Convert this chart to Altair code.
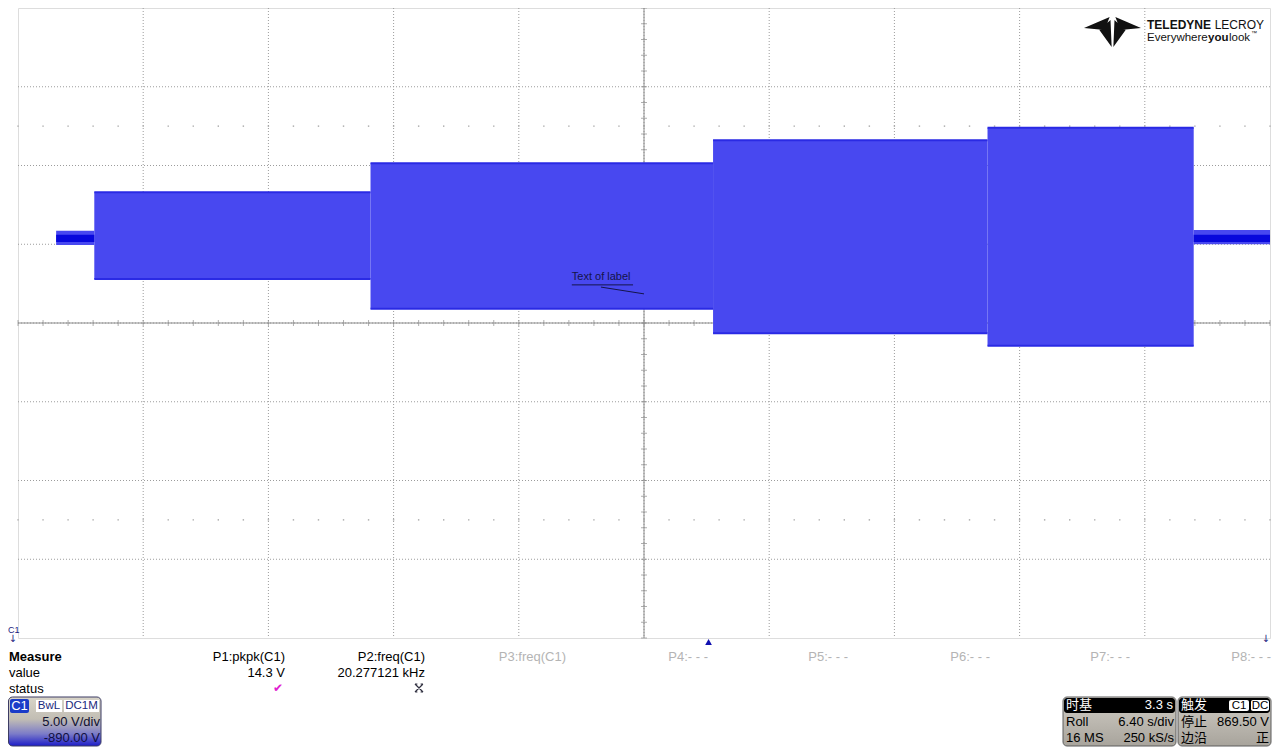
import altair as alt
import pandas as pd

# ---------------- data read from the screen ----------------
# envelope segments of channel C1 (time in s, voltage in V)
seg_start = [-30.05, -28.10, -13.98, 3.53, 17.56, 28.10]
seg_end = [-28.10, -13.98, 3.53, 17.56, 28.10, 32.00]
seg_low = [894.95, 892.80, 890.90, 889.35, 888.55, 895.00]
seg_high = [895.85, 898.30, 900.15, 901.60, 902.40, 895.90]

# dark core of the two narrow segments
core_start = [-30.05, 28.10]
core_end = [-28.10, 32.00]
core_low = [895.15, 895.15]
core_high = [895.60, 895.60]

# screen grid: 10 x 6.40 s/div, 8 x 5.00 V/div, offset -890 V
x_domain = [-32.0, 32.0]
y_domain = [870.0, 910.0]
grid_t = [-32.0, -25.6, -19.2, -12.8, -6.4, 0.0, 6.4, 12.8, 19.2, 25.6, 32.0]
grid_v = [870.0, 875.0, 880.0, 885.0, 890.0, 895.0, 900.0, 905.0, 910.0]
minor_t = [round(-32.0 + 1.28 * k, 2) for k in range(51)]
minor_v = [870.0 + k for k in range(41)]
dot_rows_v = [877.5, 902.5]
trigger_t = [3.3]

# label annotation
label_text = ["Text of label"]
label_t = [-3.69]
label_v = [892.72]
label_line_t = [-2.2, 0.0]
label_line_v = [892.28, 891.85]

# measurement table
meas_names = ["P1:pkpk(C1)", "P2:freq(C1)", "P3:freq(C1)", "P4:- - -",
              "P5:- - -", "P6:- - -", "P7:- - -", "P8:- - -"]
meas_values = ["14.3 V", "20.277121 kHz", "", "", "", "", "", ""]
meas_active = [True, True, False, False, False, False, False, False]

# ---------------- styling ----------------
SANS = "Liberation Sans, Arial, sans-serif"
CJK = "Noto Sans CJK SC"
BAND = "#4848f0"
EDGE = "#2a2ae4"
CORE = "#0808dc"
GRID = "#9c9c9c"

xs = alt.Scale(domain=x_domain, nice=False, zero=False)
ys = alt.Scale(domain=y_domain, nice=False, zero=False)
one = pd.DataFrame({"a": [0]})


def X(f, **kw):
    return alt.X(f, type="quantitative", scale=xs, axis=None, **kw)


def Y(f, **kw):
    return alt.Y(f, type="quantitative", scale=ys, axis=None, **kw)


def txt(text, gx, gy, size=13, align="left", color="#000000", weight="normal",
        font=SANS, baseline="middle"):
    return alt.Chart(pd.DataFrame({"s": [text]})).mark_text(
        align=align, baseline=baseline, fontSize=size, fontWeight=weight,
        font=font, color=color
    ).encode(x=alt.value(gx), y=alt.value(gy), text="s:N")


def box(x1, x2, y1, y2, fill, stroke=None, radius=0, sw=1):
    kw = dict(fill=fill, cornerRadius=radius)
    if stroke is not None:
        kw.update(stroke=stroke, strokeWidth=sw)
    return alt.Chart(one).mark_rect(**kw).encode(
        x=alt.value(x1), x2=alt.value(x2), y=alt.value(y1), y2=alt.value(y2))


def grad(stops):
    return alt.LinearGradient(
        gradient="linear", x1=0, x2=0, y1=0, y2=1,
        stops=[alt.GradientStop(offset=o, color=c) for o, c in stops])


layers = []

# dotted grid
layers.append(alt.Chart(pd.DataFrame({"t": grid_t[1:-1]})).mark_rule(
    color=GRID, strokeDash=[1, 2], strokeWidth=1).encode(x=X("t")))
layers.append(alt.Chart(pd.DataFrame({"v": grid_v[1:-1]})).mark_rule(
    color=GRID, strokeDash=[1, 2], strokeWidth=1).encode(y=Y("v")))

# marker dots at +-2.5 div
dots = pd.DataFrame([(t, v) for v in dot_rows_v for t in minor_t], columns=["t", "v"])
layers.append(alt.Chart(dots).mark_point(
    shape="square", filled=True, size=2, color="#a8a8a8", opacity=1).encode(
    x=X("t"), y=Y("v")))

# solid centre lines with minor ticks
layers.append(alt.Chart(one).mark_rule(color="#8c8c8c").encode(x=alt.X(datum=0.0, scale=xs, axis=None)))
layers.append(alt.Chart(one).mark_rule(color="#8c8c8c").encode(y=alt.Y(datum=890.0, scale=ys, axis=None)))
layers.append(alt.Chart(pd.DataFrame({"t": minor_t})).mark_tick(
    orient="vertical", size=6, thickness=1, color="#8c8c8c").encode(
    x=X("t"), y=alt.Y(datum=890.0, scale=ys, axis=None)))
layers.append(alt.Chart(pd.DataFrame({"v": minor_v})).mark_tick(
    orient="horizontal", size=6, thickness=1, color="#8c8c8c").encode(
    y=Y("v"), x=alt.X(datum=0.0, scale=xs, axis=None)))

# signal envelope
segs = pd.DataFrame({"t0": seg_start, "t1": seg_end, "lo": seg_low, "hi": seg_high})
layers.append(alt.Chart(segs).mark_rect(color=BAND, opacity=1).encode(
    x=X("t0"), x2="t1", y=Y("lo"), y2="hi"))
wide = segs.iloc[1:5]
layers.append(alt.Chart(wide).mark_rule(color=EDGE, strokeWidth=2).encode(
    x=X("t0"), x2="t1", y=Y("hi")))
layers.append(alt.Chart(wide).mark_rule(color=EDGE, strokeWidth=2).encode(
    x=X("t0"), x2="t1", y=Y("lo")))
cores = pd.DataFrame({"t0": core_start, "t1": core_end, "lo": core_low, "hi": core_high})
layers.append(alt.Chart(cores).mark_rect(color=CORE, opacity=1).encode(
    x=X("t0"), x2="t1", y=Y("lo"), y2="hi"))

# label annotation
lab = pd.DataFrame({"s": label_text, "t": label_t, "v": label_v})
layers.append(alt.Chart(lab).mark_text(
    align="left", baseline="alphabetic", fontSize=11, font=SANS, color="#14144a").encode(
    x=X("t"), y=Y("v"), text="s:N"))
layers.append(alt.Chart(pd.DataFrame({"t0": [label_t[0]], "t1": [-0.56], "v": [892.42]})).mark_rule(
    color="#14144a", strokeWidth=1).encode(x=X("t0"), x2="t1", y=Y("v")))
layers.append(alt.Chart(pd.DataFrame({"t0": [label_line_t[0]], "t1": [label_line_t[1]],
                                      "v0": [label_line_v[0]], "v1": [label_line_v[1]]})).mark_rule(
    color="#14144a", strokeWidth=1).encode(x=X("t0"), x2="t1", y=Y("v0"), y2="v1"))

# trigger position marker
layers.append(alt.Chart(pd.DataFrame({"t": trigger_t})).mark_point(
    shape="triangle-up", filled=True, size=45, color="#1010b0", opacity=1).encode(
    x=X("t"), y=alt.value(634)))

# channel markers
layers.append(txt("C1", -10, 622, size=9, align="left", color="#1a1a80"))
layers.append(txt("↓", -9.5, 631, size=10, align="left", color="#1a1a80", font="DejaVu Sans"))
layers.append(txt("↓", 1252, 631, size=10, align="right", color="#1a1a80", font="DejaVu Sans"))

# measurement table
layers.append(txt("Measure", -9, 649, size=13, weight="bold"))
layers.append(txt("value", -9, 665, size=13))
layers.append(txt("status", -9, 681, size=13))
col_x = [267, 407, 548, 690, 830, 972, 1112, 1253]
for name, val, act, cx in zip(meas_names, meas_values, meas_active, col_x):
    layers.append(txt(name, cx, 649, size=13, align="right",
                      color="#000000" if act else "#b4b4b4"))
    if val:
        layers.append(txt(val, cx, 665, size=13, align="right"))
layers.append(txt("✔", 260, 680, size=12, align="center", color="#e01cd0", font="DejaVu Sans"))
layers.append(alt.Chart(one).mark_point(
    shape="M-1,-1L1,1M1,-1L-1,1M-1,-1L-0.4,-1M1,-1L0.4,-1M-1,1L-0.4,1M1,1L0.4,1",
    filled=False, stroke="#303040", strokeWidth=1.2, size=64, opacity=1).encode(
    x=alt.value(401), y=alt.value(680)))

# C1 channel box
layers.append(box(-9.5, 83, 689, 738,
                  grad([(0, "#d8d4c8"), (0.45, "#c2beb4"), (0.75, "#7c7cc8"), (1, "#1c1cc8")]),
                  stroke="#3c3c64", radius=4))
layers.append(box(-8, 11, 691, 705, "#1a3cc8", radius=2))
layers.append(txt("C1", 1.5, 698, size=13, align="center", color="#ffffff"))
layers.append(box(18, 44, 692, 704, "#ffffff"))
layers.append(txt("BwL", 31, 698, size=11.5, align="center", color="#1a2a80"))
layers.append(box(46, 81, 692, 704, "#ffffff"))
layers.append(txt("DC1M", 63.5, 698, size=11.5, align="center", color="#1a2a80"))
layers.append(txt("5.00 V/div", 82, 714, size=13, align="right", color="#101030"))
layers.append(txt("-890.00 V", 82, 730, size=13, align="right", color="#101040"))

# timebase box
layers.append(box(1045, 1158, 689, 738, grad([(0, "#d0ccc4"), (1, "#a8a49c")]),
                  stroke="#5c5c5c", radius=4))
layers.append(box(1046, 1157, 690, 705, "#000000", radius=3))
layers.append(txt("时基", 1048, 697, size=13, color="#ffffff", font=CJK))
layers.append(txt("3.3 s", 1155, 697, size=13, align="right", color="#ffffff"))
layers.append(txt("Roll", 1048, 714, size=13))
layers.append(txt("6.40 s/div", 1156, 714, size=13, align="right"))
layers.append(txt("16 MS", 1048, 730, size=13))
layers.append(txt("250 kS/s", 1156, 730, size=13, align="right"))

# trigger box
layers.append(box(1160, 1253, 689, 738, grad([(0, "#d0ccc4"), (1, "#a8a49c")]),
                  stroke="#5c5c5c", radius=4))
layers.append(box(1161, 1252, 690, 705, "#000000", radius=3))
layers.append(txt("触发", 1163, 697, size=13, color="#ffffff", font=CJK))
layers.append(box(1211, 1231, 692, 703, "#ffffff", radius=2))
layers.append(txt("C1", 1221, 698, size=11.5, align="center"))
layers.append(box(1233, 1251, 692, 703, "#ffffff", radius=2))
layers.append(txt("DC", 1242, 698, size=11.5, align="center"))
layers.append(txt("停止", 1163, 714, size=13, font=CJK))
layers.append(txt("869.50 V", 1251, 714, size=13, align="right"))
layers.append(txt("边沿", 1163, 730, size=13, font=CJK))
layers.append(txt("正", 1251, 730, size=13, align="right", font=CJK))

# logo
logo_path = ("M-1,-0.14L-0.1,-0.53L-0.28,-0.07Z"
             "M1,-0.14L0.1,-0.53L0.28,-0.07Z"
             "M-0.46,-0.07L-0.07,-0.42L-0.03,0.53Z"
             "M0.46,-0.07L0.07,-0.42L0.03,0.53Z")
layers.append(alt.Chart(one).mark_point(
    shape=logo_path, filled=True, color="#111111", size=3249, opacity=1).encode(
    x=alt.value(1094.5), y=alt.value(24)))
layers.append(txt("TELEDYNE", 1129, 20.5, size=12, weight="bold", color="#111111",
                  baseline="alphabetic"))
layers.append(txt("LECROY", 1246, 20.5, size=12, align="right", color="#111111",
                  baseline="alphabetic"))
layers.append(txt("Everywhere", 1129, 32.5, size=11.5, color="#111111", baseline="alphabetic"))
layers.append(txt("you", 1190, 32.5, size=11.5, weight="bold", color="#111111", baseline="alphabetic"))
layers.append(txt("look", 1211, 32.5, size=11.5, color="#111111", baseline="alphabetic"))
layers.append(txt("™", 1233, 27, size=6, color="#111111", baseline="alphabetic"))

chart = alt.layer(*layers).properties(
    width=1252, height=630,
    autosize=alt.AutoSizeParams(type="none"),
    padding={"left": 10, "top": 0, "right": 2, "bottom": 109},
).configure_view(stroke="#a0a0a0", strokeWidth=1).configure(background="white")

chart.save("out.html", embed_options={"renderer": "svg", "actions": False})
